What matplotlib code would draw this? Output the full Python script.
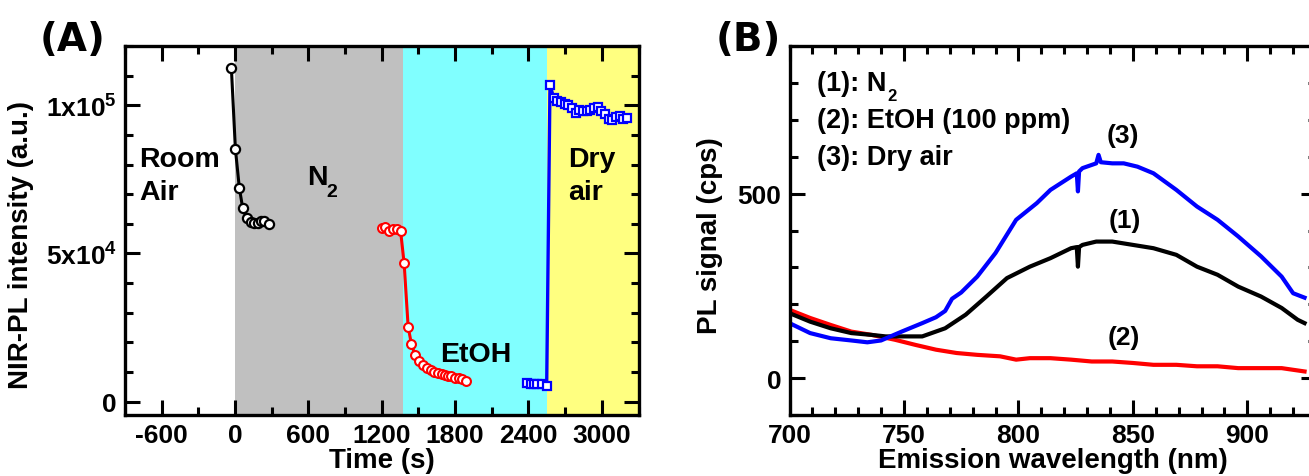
import matplotlib
matplotlib.use("Agg")
import matplotlib.pyplot as plt
from matplotlib.ticker import MultipleLocator, FixedLocator, FixedFormatter

plt.rcParams.update({
    "font.family": ["Liberation Sans", "DejaVu Sans"],
    "font.weight": "bold",
    "axes.unicode_minus": False,
    "mathtext.fontset": "custom",
    "mathtext.rm": "Liberation Sans:bold",
    "mathtext.bf": "Liberation Sans:bold",
    "mathtext.default": "regular",
})

# ---- Panel A: NIR-PL intensity vs time ----
t_n2 = [-30, 3, 35, 63, 95, 131, 158, 185, 212, 240, 275]
pl_n2 = [112600, 85200, 72200, 65200, 62000, 60700, 60300, 60300, 60900, 60900, 60100]

t_etoh = [1201, 1228, 1261, 1288, 1321, 1354, 1383, 1416, 1443, 1471, 1506, 1539,
          1574, 1601, 1628, 1661, 1689, 1716, 1743, 1770, 1800, 1833, 1860, 1893]
pl_etoh = [58600, 58900, 57700, 58300, 58100, 57600, 46700, 25200, 19400, 15900, 13800, 12300,
           11200, 10600, 10000, 9700, 9300, 8900, 8700, 8800, 8100, 8000, 7700, 6900]

t_dry = [2390, 2418, 2445, 2473, 2510, 2549, 2576, 2606, 2636, 2666, 2696, 2726, 2756, 2786,
         2816, 2846, 2876, 2906, 2936, 2966, 2996, 3026, 3056, 3086, 3116, 3146, 3176, 3210]
pl_dry = [6300, 6100, 6000, 5900, 5800, 5300, 106900, 102500, 101300, 101000, 100400, 100000,
          99000, 97400, 98300, 98000, 98200, 98500, 99000, 99300, 98000, 97000, 95500, 95000,
          96000, 96300, 95500, 95600]

phase_edges = [0, 1375, 2550, 3300]
phase_colors = ["#C0C0C0", "#80FFFF", "#FFFF80"]

xticks_a = [-600, 0, 600, 1200, 1800, 2400, 3000]
yticks_a = [0, 50000, 100000]
yticklabels_a = ["0", "5x10$^{4}$", "1x10$^{5}$"]

# ---- Panel B: PL spectra ----
wl_n2 = [700, 709, 718, 727, 736, 742, 749, 758, 768, 777, 786, 795, 805, 814, 823,
         825.5, 826, 826.5, 828, 834, 841, 850, 859, 869, 878, 887, 896, 906, 915, 922, 925]
sig_n2 = [176, 153, 135, 122, 117, 113, 113, 113, 135, 172, 221, 271, 302, 325, 352,
          355, 302, 355, 361, 370, 370, 361, 352, 334, 302, 280, 248, 221, 190, 158, 149]

wl_etoh = [700, 709, 718, 727, 736, 746, 755, 764, 773, 782, 792, 799, 805, 814, 823,
           832, 841, 850, 859, 869, 878, 887, 896, 906, 915, 925]
sig_etoh = [185, 163, 144, 126, 117, 104, 90, 77, 68, 63, 59, 50, 54, 54, 50,
            45, 45, 41, 36, 36, 32, 32, 27, 27, 27, 18]

wl_dry = [700, 709, 718, 727, 734, 740, 749, 758, 764, 768, 771, 775, 782, 790, 799, 808,
          814, 823, 825.5, 826, 826.5, 828, 834, 835, 836, 841, 846, 852, 859, 869, 878,
          887, 896, 906, 915, 920, 925]
sig_dry = [149, 122, 108, 102, 97, 102, 126, 149, 165, 182, 215, 232, 275, 339, 429, 474,
           510, 546, 555, 506, 560, 569, 582, 605, 585, 582, 582, 573, 555, 510, 465,
           429, 384, 330, 275, 230, 218]

W, H = 1309, 477
fig = plt.figure(figsize=(W / 100, H / 100), dpi=100)

axA = fig.add_axes([125 / W, (H - 416) / H, 513.5 / W, 369 / H])
axB = fig.add_axes([789.5 / W, (H - 416) / H, 526.5 / W, 369 / H])


def style_axes(ax):
    for s in ax.spines.values():
        s.set_linewidth(2.4)
    ax.tick_params(which="both", direction="in", top=True, right=True,
                   width=2.2, labelsize=19, pad=5.8)
    ax.tick_params(which="major", length=10.8)
    ax.tick_params(which="minor", length=5.8)


# Panel A
for lo, hi, c in zip(phase_edges[:-1], phase_edges[1:], phase_colors):
    axA.axvspan(lo, hi, color=c, lw=0, zorder=0)

axA.plot(t_n2, pl_n2, "-o", color="black", lw=2.2, ms=6.6, mfc="white", mec="black", mew=1.6)
axA.plot(t_etoh, pl_etoh, "-o", color="red", lw=2.2, ms=6.4, mfc="white", mec="red", mew=1.5)
axA.plot(t_dry, pl_dry, "-s", color="blue", lw=2.4, ms=5.8, mfc="white", mec="blue", mew=1.6)

axA.set_xlim(-900, 3300)
axA.set_ylim(-4500, 120000)
axA.xaxis.set_major_locator(FixedLocator(xticks_a))
axA.xaxis.set_minor_locator(MultipleLocator(300))
axA.yaxis.set_major_locator(FixedLocator(yticks_a))
axA.yaxis.set_major_formatter(FixedFormatter(yticklabels_a))
axA.yaxis.set_minor_locator(MultipleLocator(10000))
style_axes(axA)

axA.set_xlabel("Time (s)", fontsize=20, fontweight="bold")
axA.xaxis.label.set_va("center")
axA.xaxis.set_label_coords(0.5, -0.122)
axA.set_ylabel("NIR-PL intensity (a.u.)", fontsize=20, fontweight="bold")
axA.yaxis.label.set_va("center")
axA.yaxis.set_label_coords(-0.2025, 0.463)

txt = dict(fontsize=20.5, fontweight="bold", va="baseline", ha="left")
axA.text(-785, 79500, "Room", **txt)
axA.text(-785, 68400, "Air", **txt)
axA.text(586, 73400, "N", **txt)
axA.text(750, 69400, "2", fontsize=14, fontweight="bold", va="baseline", ha="left")
axA.text(1676, 13800, "EtOH", **txt)
axA.text(2723, 79500, "Dry", **txt)
axA.text(2723, 68400, "air", **txt)

# Panel B
axB.plot(wl_etoh, sig_etoh, color="red", lw=3.0)
axB.plot(wl_n2, sig_n2, color="black", lw=3.0)
axB.plot(wl_dry, sig_dry, color="blue", lw=3.0)

axB.set_xlim(700, 930)
axB.set_ylim(-100, 900)
axB.xaxis.set_major_locator(FixedLocator([700, 750, 800, 850, 900]))
axB.xaxis.set_minor_locator(MultipleLocator(10))
axB.yaxis.set_major_locator(FixedLocator([0, 500]))
axB.yaxis.set_minor_locator(MultipleLocator(100))
style_axes(axB)

axB.set_xlabel("Emission wavelength (nm)", fontsize=20, fontweight="bold")
axB.xaxis.label.set_va("center")
axB.xaxis.set_label_coords(0.5, -0.122)
axB.set_ylabel("PL signal (cps)", fontsize=20, fontweight="bold")
axB.yaxis.label.set_va("center")
axB.yaxis.set_label_coords(-0.151, 0.49)

leg = dict(fontsize=19.5, fontweight="bold", va="baseline", ha="left")
n2_text = axB.text(711.9, 781, "(1): N", **leg)
axB.annotate("2", xy=(1.0, 0.0), xycoords=n2_text, xytext=(1.0, -3.0),
             textcoords="offset points", fontsize=12, fontweight="bold",
             va="baseline", ha="left")
axB.text(711.9, 680, "(2): EtOH (100 ppm)", **leg)
axB.text(711.9, 580, "(3): Dry air", **leg)

lab = dict(fontsize=19, fontweight="bold", va="baseline", ha="center")
axB.text(845.7, 640, "(3)", **lab)
axB.text(846.3, 409, "(1)", **lab)
axB.text(846.0, 92, "(2)", **lab)

fig.text(73 / W, 1 - 40 / H, "(A)", fontsize=28, fontweight="bold",
         family=["DejaVu Sans"], ha="center", va="center")
fig.text(748 / W, 1 - 40 / H, "(B)", fontsize=28, fontweight="bold",
         family=["DejaVu Sans"], ha="center", va="center")

fig.savefig("out.png", dpi=100)
